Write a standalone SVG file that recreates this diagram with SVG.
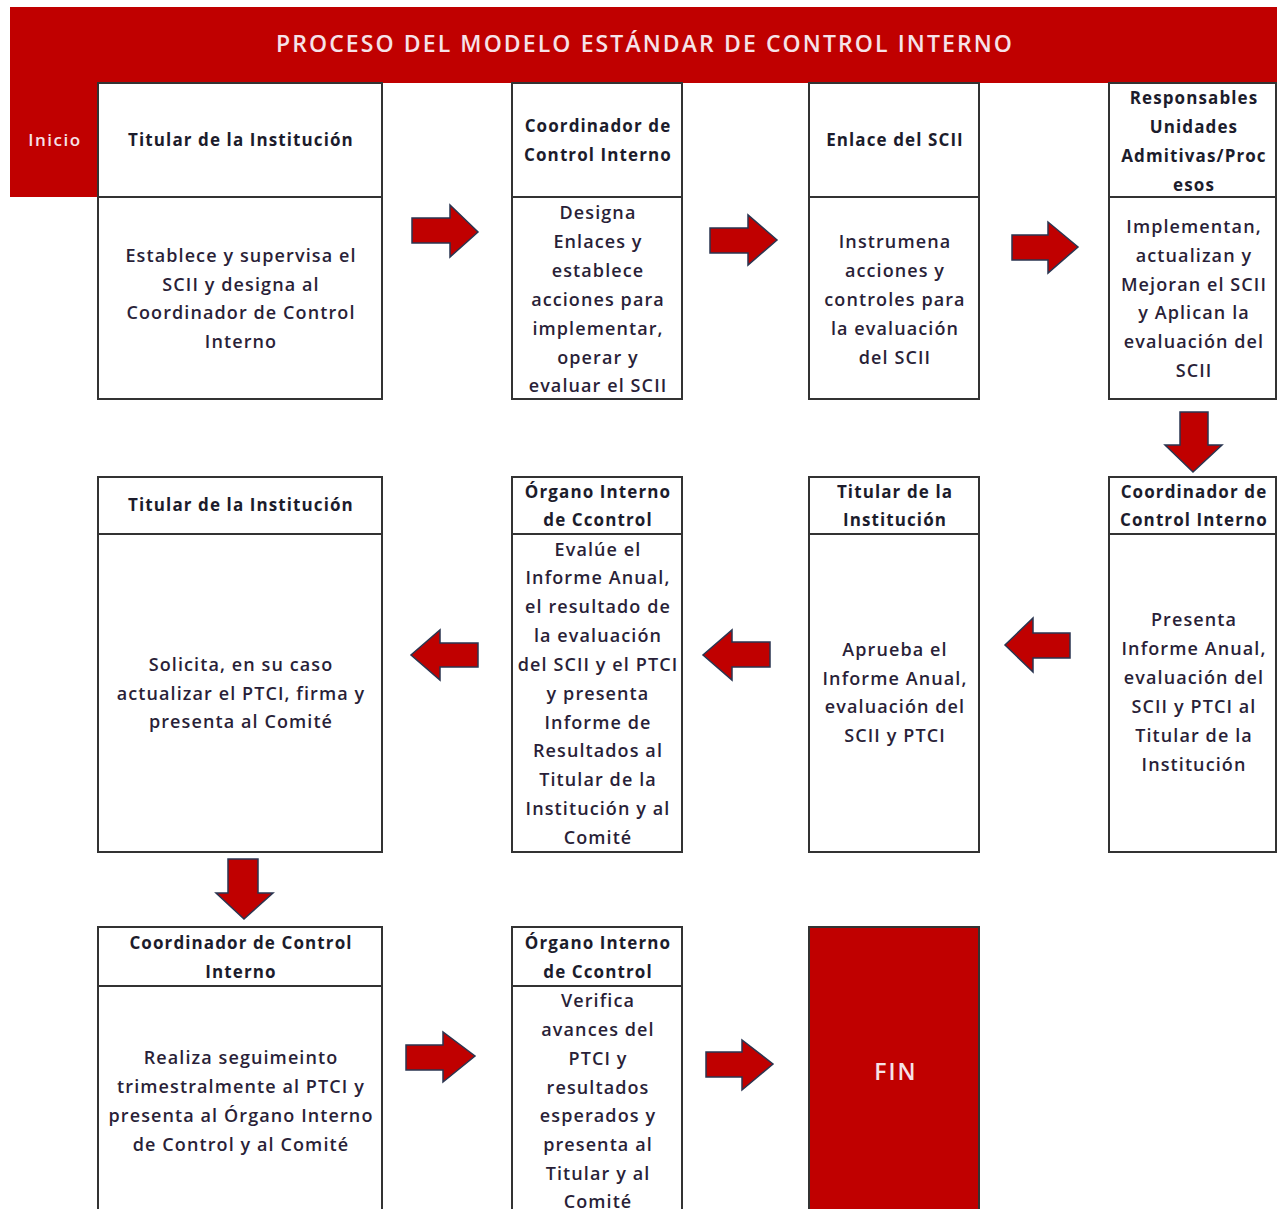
<svg xmlns="http://www.w3.org/2000/svg" width="1277" height="1209" viewBox="0 0 1277 1209">
<style>
.box{fill:#fff;stroke:#333;stroke-width:2}
.div{stroke:#333;stroke-width:2}
.h{font-family:"Open Sans","Liberation Sans",sans-serif;font-weight:bold;font-size:17px;letter-spacing:1.1px;fill:#1c1c2c;text-anchor:middle}
.b{font-family:"Open Sans","Liberation Sans",sans-serif;font-weight:600;font-size:18px;letter-spacing:1.1px;fill:#2a1f38;text-anchor:middle}
.w{font-family:"Open Sans","Liberation Sans",sans-serif;font-weight:600;fill:#F6E2E8;text-anchor:middle}
.arr{fill:#C00000;stroke:#2a3550;stroke-width:1.5;stroke-linejoin:miter}
</style>
<rect width="1277" height="1209" fill="#fff"/>
<g id="banner">
<rect x="10" y="7" width="1267" height="76" fill="#C00000"/>
<rect x="10" y="7" width="88" height="190" fill="#C00000"/>
<text class="w" x="645" y="52" font-size="23" letter-spacing="2.1">PROCESO DEL MODELO ESTÁNDAR DE CONTROL INTERNO</text>
<text class="w" x="55" y="146" font-size="17" font-weight="bold" letter-spacing="1.5">Inicio</text>
</g>
<g id="n1">
<rect class="box" x="98" y="83" width="284" height="316"/>
<line class="div" x1="98" y1="197" x2="382" y2="197"/>
<text class="h" x="241" y="146">Titular de la Institución</text>
<text class="b" x="241" y="262">Establece y supervisa el</text>
<text class="b" x="241" y="291">SCII y designa al</text>
<text class="b" x="241" y="319">Coordinador de Control</text>
<text class="b" x="241" y="348">Interno</text>
</g>
<g id="n2">
<rect class="box" x="512" y="83" width="170" height="316"/>
<line class="div" x1="512" y1="197" x2="682" y2="197"/>
<text class="h" x="598" y="132">Coordinador de</text>
<text class="h" x="598" y="161">Control Interno</text>
<text class="b" x="598" y="219">Designa</text>
<text class="b" x="598" y="248">Enlaces y</text>
<text class="b" x="598" y="277">establece</text>
<text class="b" x="598" y="306">acciones para</text>
<text class="b" x="598" y="335">implementar,</text>
<text class="b" x="598" y="364">operar y</text>
<text class="b" x="598" y="392">evaluar el SCII</text>
</g>
<g id="n3">
<rect class="box" x="809" y="83" width="170" height="316"/>
<line class="div" x1="809" y1="197" x2="979" y2="197"/>
<text class="h" x="895" y="146">Enlace del SCII</text>
<text class="b" x="895" y="248">Instrumena</text>
<text class="b" x="895" y="277">acciones y</text>
<text class="b" x="895" y="306">controles para</text>
<text class="b" x="895" y="335">la evaluación</text>
<text class="b" x="895" y="364">del SCII</text>
</g>
<g id="n4">
<rect class="box" x="1109" y="83" width="167" height="316"/>
<line class="div" x1="1109" y1="197" x2="1276" y2="197"/>
<text class="h" x="1194" y="104">Responsables</text>
<text class="h" x="1194" y="133">Unidades</text>
<text class="h" x="1194" y="162">Admitivas/Proc</text>
<text class="h" x="1194" y="191">esos</text>
<text class="b" x="1194" y="233">Implementan,</text>
<text class="b" x="1194" y="262">actualizan y</text>
<text class="b" x="1194" y="291">Mejoran el SCII</text>
<text class="b" x="1194" y="319">y Aplican la</text>
<text class="b" x="1194" y="348">evaluación del</text>
<text class="b" x="1194" y="377">SCII</text>
</g>
<g id="n5">
<rect class="box" x="1109" y="477" width="167" height="375"/>
<line class="div" x1="1109" y1="534" x2="1276" y2="534"/>
<text class="h" x="1194" y="498">Coordinador de</text>
<text class="h" x="1194" y="526">Control Interno</text>
<text class="b" x="1194" y="626">Presenta</text>
<text class="b" x="1194" y="655">Informe Anual,</text>
<text class="b" x="1194" y="684">evaluación del</text>
<text class="b" x="1194" y="713">SCII y PTCI al</text>
<text class="b" x="1194" y="742">Titular de la</text>
<text class="b" x="1194" y="771">Institución</text>
</g>
<g id="n6">
<rect class="box" x="809" y="477" width="170" height="375"/>
<line class="div" x1="809" y1="534" x2="979" y2="534"/>
<text class="h" x="895" y="498">Titular de la</text>
<text class="h" x="895" y="526">Institución</text>
<text class="b" x="895" y="656">Aprueba el</text>
<text class="b" x="895" y="685">Informe Anual,</text>
<text class="b" x="895" y="713">evaluación del</text>
<text class="b" x="895" y="742">SCII y PTCI</text>
</g>
<g id="n7">
<rect class="box" x="512" y="477" width="170" height="375"/>
<line class="div" x1="512" y1="534" x2="682" y2="534"/>
<text class="h" x="598" y="498">Órgano Interno</text>
<text class="h" x="598" y="526">de Ccontrol</text>
<text class="b" x="598" y="556">Evalúe el</text>
<text class="b" x="598" y="584">Informe Anual,</text>
<text class="b" x="598" y="613">el resultado de</text>
<text class="b" x="598" y="642">la evaluación</text>
<text class="b" x="598" y="671">del SCII y el PTCI</text>
<text class="b" x="598" y="700">y presenta</text>
<text class="b" x="598" y="729">Informe de</text>
<text class="b" x="598" y="757">Resultados al</text>
<text class="b" x="598" y="786">Titular de la</text>
<text class="b" x="598" y="815">Institución y al</text>
<text class="b" x="598" y="844">Comité</text>
</g>
<g id="n8">
<rect class="box" x="98" y="477" width="284" height="375"/>
<line class="div" x1="98" y1="534" x2="382" y2="534"/>
<text class="h" x="241" y="511">Titular de la Institución</text>
<text class="b" x="241" y="671">Solicita, en su caso</text>
<text class="b" x="241" y="700">actualizar el PTCI, firma y</text>
<text class="b" x="241" y="728">presenta al Comité</text>
</g>
<g id="n9">
<rect class="box" x="98" y="927" width="284" height="300"/>
<line class="div" x1="98" y1="986" x2="382" y2="986"/>
<text class="h" x="241" y="949">Coordinador de Control</text>
<text class="h" x="241" y="978">Interno</text>
<text class="b" x="241" y="1064">Realiza seguimeinto</text>
<text class="b" x="241" y="1093">trimestralmente al PTCI y</text>
<text class="b" x="241" y="1122">presenta al Órgano Interno</text>
<text class="b" x="241" y="1151">de Control y al Comité</text>
</g>
<g id="n10">
<rect class="box" x="512" y="927" width="170" height="300"/>
<line class="div" x1="512" y1="986" x2="682" y2="986"/>
<text class="h" x="598" y="949">Órgano Interno</text>
<text class="h" x="598" y="978">de Ccontrol</text>
<text class="b" x="598" y="1007">Verifica</text>
<text class="b" x="598" y="1036">avances del</text>
<text class="b" x="598" y="1065">PTCI y</text>
<text class="b" x="598" y="1094">resultados</text>
<text class="b" x="598" y="1122">esperados y</text>
<text class="b" x="598" y="1151">presenta al</text>
<text class="b" x="598" y="1180">Titular y al</text>
<text class="b" x="598" y="1208">Comité</text>
</g>
<g id="fin">
<rect x="809" y="927" width="170" height="300" fill="#C00000" stroke="#333" stroke-width="2"/>
<text class="w" x="896" y="1080" font-size="23" letter-spacing="2">FIN</text>
</g>
<g id="connectors">
<polygon class="arr" points="412,218 450,218 450,205 478,232 450,257 450,243 412,243"/>
<polygon class="arr" points="710,228 748,228 748,215 777,240 748,265 748,253 710,253"/>
<polygon class="arr" points="1012,235 1048,235 1048,222 1078,247 1048,273 1048,260 1012,260"/>
<polygon class="arr" points="1180,412 1208,412 1208,445 1222,445 1193,472 1165,445 1180,445"/>
<polygon class="arr" points="1070,633 1033,633 1033,618 1005,645 1033,672 1033,658 1070,658"/>
<polygon class="arr" points="770,642 732,642 732,630 703,655 732,680 732,667 770,667"/>
<polygon class="arr" points="478,643 440,643 440,630 411,655 440,680 440,667 478,667"/>
<polygon class="arr" points="228,859 258,859 258,893 273,893 244,919 216,893 228,893"/>
<polygon class="arr" points="406,1045 443,1045 443,1032 475,1056 443,1082 443,1070 406,1070"/>
<polygon class="arr" points="706,1052 742,1052 742,1040 773,1064 742,1090 742,1077 706,1077"/>
</g>
</svg>
